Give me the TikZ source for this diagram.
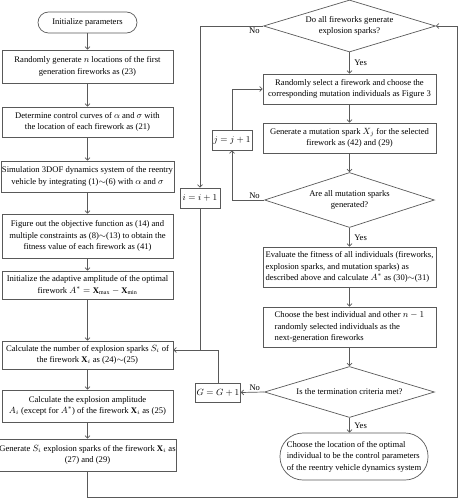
\documentclass[tikz,border=0pt]{standalone}
\usepackage{fontspec}
\setmainfont{Liberation Serif}
\usetikzlibrary{shapes.geometric,arrows.meta}
\begin{document}
\begin{tikzpicture}[x=1pt,y=-1pt,
  every node/.style={font=\fontsize{8.6}{11.5}\selectfont, text=black},
  box/.style={draw=black!65, line width=0.7pt, inner sep=1pt, align=center},
  dia/.style={draw=black!65, line width=0.7pt, diamond, inner sep=0pt, align=center},
  line/.style={draw=black!65, line width=0.7pt},
  arr/.style={line, -{Straight Barb[length=2.5pt,width=5pt]}},
  lbl/.style={font=\fontsize{8.6}{10}\selectfont, inner sep=1.5pt}
]
\useasboundingbox (0,0) rectangle (459,500);
% left column
\node[box, rounded corners=10.5pt, minimum width=99pt, minimum height=21pt] (st) at (87.5,22.5) {Initialize parameters};
\node[box, minimum width=171pt, minimum height=33pt] (L1) at (87.5,66.5) {Randomly generate $n$ locations of the first\\generation fireworks as (23)};
\node[box, minimum width=171pt, minimum height=30pt] (L2) at (87.5,122) {Determine control curves of $\alpha$ and $\sigma$ with\\the location of each firework as (21)};
\node[box, minimum width=171pt, minimum height=31pt] (L3) at (87.5,176.5) {Simulation 3DOF dynamics system of the reentry\\vehicle by integrating (1)$\sim$(6) with $\alpha$ and $\sigma$};
\node[box, minimum width=171pt, minimum height=44pt] (L4) at (87.5,236) {Figure out the objective function as (14) and\\multiple constraints as (8)$\sim$(13) to obtain the\\fitness value of each firework as (41)};
\node[box, minimum width=171pt, minimum height=28pt] (L5) at (87.5,285) {Initialize the adaptive amplitude of the optimal\\firework $A^{*}=\mathbf{X}_{\max}-\mathbf{X}_{\min}$};
\node[box, minimum width=171pt, minimum height=28pt] (L6) at (87.5,355) {Calculate the number of explosion sparks $S_i$ of\\the firework $\mathbf{X}_i$ as (24)$\sim$(25)};
\node[box, minimum width=171pt, minimum height=32pt] (L7) at (87.5,406) {Calculate the explosion amplitude\\$A_i$ (except for $A^{*}$) of the firework $\mathbf{X}_i$ as (25)};
\node[box, minimum width=171pt, minimum height=32pt] (L8) at (87.5,455) {Generate $S_i$ explosion sparks of the firework $\mathbf{X}_i$ as\\(27) and (29)};
% right column
\node[dia, minimum width=172pt, minimum height=52pt, aspect=3.3] (D1) at (349.5,26) {Do all fireworks generate\\explosion sparks?};
\node[box, minimum width=173pt, minimum height=30pt] (R1) at (349.5,89) {Randomly select a firework and choose the\\corresponding mutation individuals as Figure 3};
\node[box, minimum width=173pt, minimum height=30pt] (R2) at (349.5,138) {Generate a mutation spark $X_j$ for the selected\\firework as (42) and (29)};
\node[dia, minimum width=170pt, minimum height=55pt, aspect=3.1] (D2) at (349.5,200) {Are all mutation sparks\\generated?};
\node[box, minimum width=173pt, minimum height=40pt, align=left] (R3) at (349.5,267) {Evaluate the fitness of all individuals (fireworks,\\explosion sparks, and mutation sparks) as\\described above and calculate $A^{*}$ as (30)$\sim$(31)};
\node[box, minimum width=173pt, minimum height=40pt, align=left] (R4) at (349.5,327) {Choose the best individual and other $n-1$\\randomly selected individuals as the\\next-generation fireworks};
\node[dia, minimum width=170pt, minimum height=51pt, aspect=3.3] (D3) at (349.5,392) {Is the termination criteria met?};
\node[box, rounded corners=23pt, minimum width=148pt, minimum height=47pt, align=left, inner sep=0pt] (E) at (354,456.5) {Choose the location of the optimal\\individual to be the control parameters\\of the reentry vehicle dynamics system};
% small boxes
\node[box, minimum width=40pt, minimum height=20pt] (I) at (200,198) {$i=i+1$};
\node[box, minimum width=40pt, minimum height=20pt] (J) at (232,140) {$j=j+1$};
\node[box, minimum width=44pt, minimum height=19pt] (G) at (218,392.5) {$G=G+1$};
\coordinate (m6) at ([yshift=5pt]L6.east);
\coordinate (b2) at (457,497);
% connectors left
\draw[arr] (st.south) -- (L1.north);
\draw[arr] (L1.south) -- (L2.north);
\draw[arr] (L2.south) -- (L3.north);
\draw[arr] (L3.south) -- (L4.north);
\draw[arr] (L4.south) -- (L5.north);
\draw[arr] (L5.south) -- (L6.north);
\draw[arr] (L6.south) -- (L7.north);
\draw[arr] (L7.south) -- (L8.north);
\draw[arr] (L8.south) |- (b2) |- (D1.east);
% loops
\draw[arr] (D1.west) -| (I.north) node[lbl, pos=0.07, below] {No};
\draw[line] (I.south) -- (I.south |- m6);
\draw[arr] (G.north) |- (m6);
\draw[arr] (D1.south) -- (R1.north) node[lbl, midway, right=3pt] {Yes};
\draw[arr] (R1.south) -- (R2.north);
\draw[arr] (R2.south) -- (D2.north);
\draw[arr] (D2.west) -| (J.south) node[lbl, pos=0.15, above] {No};
\draw[arr] (J.north) |- (R1.west);
\draw[arr] (D2.south) -- (R3.north) node[lbl, midway, right=3pt] {Yes};
\draw[arr] (R3.south) -- (R4.north);
\draw[arr] (R4.south) -- (D3.north);
\draw[arr] (D3.west) -- (G.east) node[lbl, pos=0.4, above] {No};
\draw[arr] (D3.south) -- (D3.south |- E.north) node[lbl, midway, right=3pt] {Yes};
\end{tikzpicture}
\end{document}
